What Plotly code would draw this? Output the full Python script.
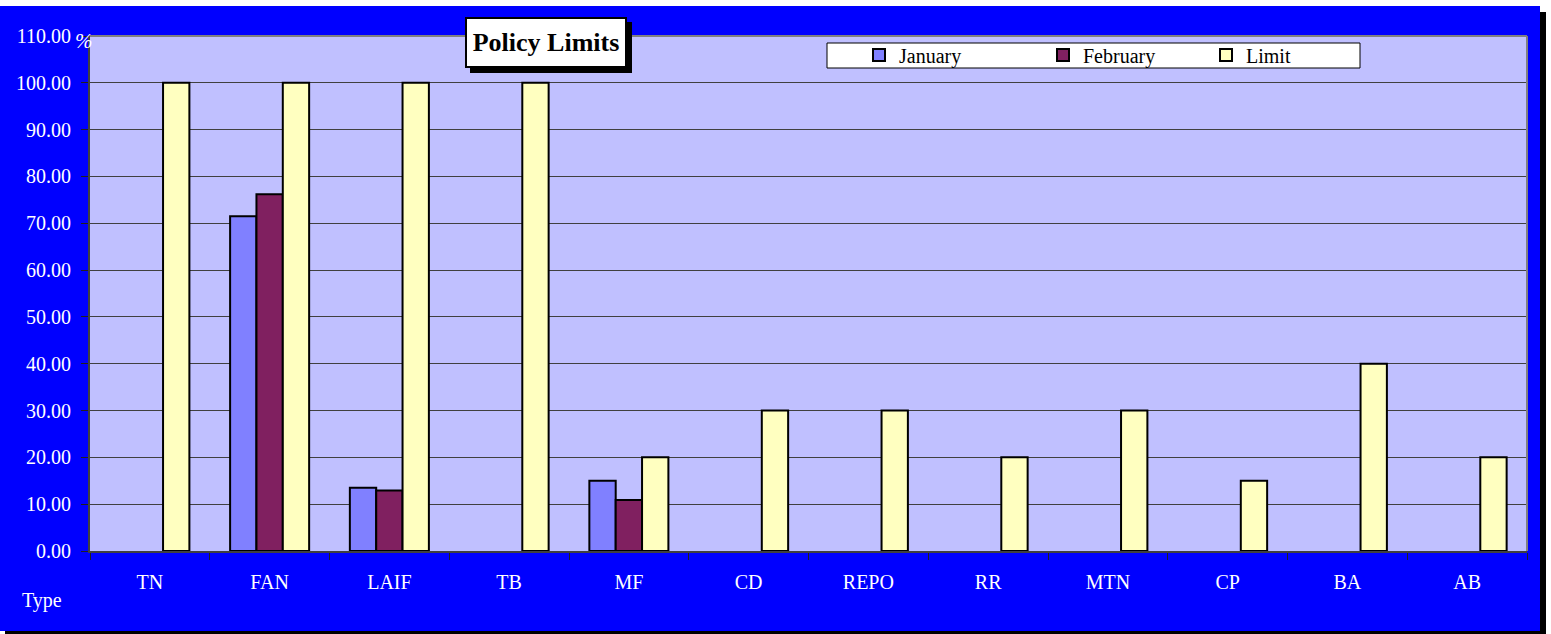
import plotly.graph_objects as go

categories = ["TN", "FAN", "LAIF", "TB", "MF", "CD", "REPO", "RR", "MTN", "CP", "BA", "AB"]
january = [None, 71.5, 13.5, None, 15.0, None, None, None, None, None, None, None]
february = [None, 76.2, 12.9, None, 10.9, None, None, None, None, None, None, None]
limit = [100, 100, 100, 100, 20, 30, 30, 20, 30, 15, 40, 20]
y_ticks = [0, 10, 20, 30, 40, 50, 60, 70, 80, 90, 100, 110]
y_ticktext = ["0.00", "10.00", "20.00", "30.00", "40.00", "50.00", "60.00", "70.00",
              "80.00", "90.00", "100.00", "110.00"]

W, H = 1551, 634
L, R, T, B = 90, 24, 36, 83
PW, PH = W - L - R, H - T - B
FONT = "Liberation Serif"


def px(x):
    return (x - L) / PW


def py(y):
    return (H - B - y) / PH


fig = go.Figure()
series = [("January", january, "#8080FF", "legend"),
          ("February", february, "#802060", "legend2"),
          ("Limit", limit, "#FFFFC0", "legend3")]
for name, vals, col, lg in series:
    fig.add_trace(go.Bar(
        x=categories, y=vals, name=name, legend=lg,
        marker=dict(color=col, line=dict(color="black", width=2)),
    ))

legend_common = dict(
    orientation="h", xref="container", yref="container", yanchor="middle",
    bgcolor="rgba(0,0,0,0)", borderwidth=0,
    font=dict(family=FONT, size=20, color="black"),
    itemclick=False, itemdoubleclick=False,
)

fig.update_layout(
    width=W, height=H,
    margin=dict(l=L, r=R, t=T, b=B, autoexpand=False),
    paper_bgcolor="#0000FF",
    plot_bgcolor="#C0C0FF",
    barmode="group",
    bargap=0.34,
    bargroupgap=0,
    showlegend=True,
    legend=dict(x=(859) / W, y=1 - 55 / H, **legend_common),
    legend2=dict(x=(1043) / W, y=1 - 55 / H, **legend_common),
    legend3=dict(x=(1206) / W, y=1 - 55 / H, **legend_common),
    font=dict(family=FONT, size=20, color="white"),
    xaxis=dict(
        type="category",
        tickson="boundaries",
        ticks="outside", ticklen=7, tickcolor="#202020", tickwidth=1,
        showgrid=False,
        showline=True, linecolor="#404040", linewidth=2,
        tickfont=dict(family=FONT, size=20, color="white"),
        ticklabelstandoff=12,
    ),
    yaxis=dict(
        range=[0, 110],
        tickvals=y_ticks, ticktext=y_ticktext,
        ticks="outside", ticklen=7, tickcolor="#202020", tickwidth=1,
        showgrid=True, gridcolor="#404040", gridwidth=1,
        zeroline=False,
        showline=True, linecolor="#404040", linewidth=2,
        tickfont=dict(family=FONT, size=20, color="white"),
        ticklabelstandoff=6,
    ),
    shapes=[
        # plot-area top / right border
        dict(type="line", xref="paper", yref="paper", x0=0, x1=1, y0=1, y1=1,
             line=dict(color="#808080", width=2), layer="above"),
        dict(type="line", xref="paper", yref="paper", x0=1, x1=1, y0=0, y1=1,
             line=dict(color="#808080", width=2), layer="above"),
        # legend box
        dict(type="rect", xref="paper", yref="paper", x0=px(827), x1=px(1360),
             y0=py(68), y1=py(43), fillcolor="white",
             line=dict(color="black", width=1), layer="above"),
        # title box shadow
        dict(type="rect", xref="paper", yref="paper", x0=px(470), x1=px(632),
             y0=py(73), y1=py(22), fillcolor="black",
             line=dict(width=0), layer="above"),
        # outer white top strip
        dict(type="rect", xref="paper", yref="paper", x0=px(0), x1=px(W),
             y0=py(6), y1=py(0), fillcolor="white", line=dict(width=0), layer="above"),
        # right white strip top
        dict(type="rect", xref="paper", yref="paper", x0=px(1540), x1=px(W),
             y0=py(12), y1=py(0), fillcolor="white", line=dict(width=0), layer="above"),
        # black shadow right
        dict(type="rect", xref="paper", yref="paper", x0=px(1540), x1=px(1546),
             y0=py(H), y1=py(12), fillcolor="black", line=dict(width=0), layer="above"),
        dict(type="rect", xref="paper", yref="paper", x0=px(1546), x1=px(W),
             y0=py(H), y1=py(12), fillcolor="white", line=dict(width=0), layer="above"),
        # black shadow bottom
        dict(type="rect", xref="paper", yref="paper", x0=px(5), x1=px(1546),
             y0=py(H), y1=py(631), fillcolor="black", line=dict(width=0), layer="above"),
        dict(type="rect", xref="paper", yref="paper", x0=px(0), x1=px(5),
             y0=py(H), y1=py(631), fillcolor="white", line=dict(width=0), layer="above"),
    ],
    annotations=[
        # title
        dict(text="<b>Policy Limits</b>", xref="paper", yref="paper",
             x=px(546), y=py(42.5), xanchor="center", yanchor="middle",
             showarrow=False, width=154, height=43,
             font=dict(family=FONT, size=26, color="black"),
             bgcolor="white", bordercolor="black", borderwidth=2, borderpad=2),
        # percent sign
        dict(text="<i>%</i>", xref="paper", yref="paper",
             x=px(73), y=py(41), xanchor="left", yanchor="middle", showarrow=False,
             font=dict(family=FONT, size=21, color="white")),
        # axis title "Type"
        dict(text="Type", xref="paper", yref="paper",
             x=px(42), y=py(600), xanchor="center", yanchor="middle", showarrow=False,
             font=dict(family=FONT, size=20, color="white")),
    ],
)

fig.write_html("out.html", config={"displayModeBar": False},
               post_script="document.body.style.margin='0';document.body.style.padding='0';")
